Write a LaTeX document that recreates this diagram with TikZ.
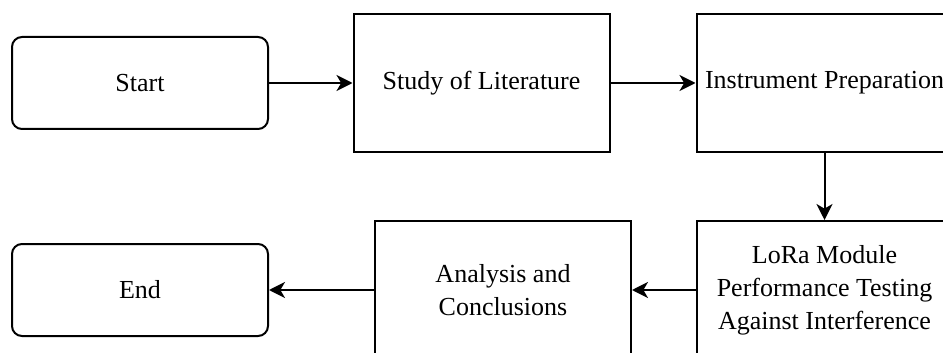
\documentclass[tikz,border=0pt]{standalone}
\usepackage{fontspec}
\setmainfont{Liberation Serif}
\usepackage{tikz}
\usetikzlibrary{arrows.meta}
\tikzset{blk/.style={rectangle,draw,line width=1.5pt,minimum width=192pt,minimum height=103.5pt,inner sep=2pt,align=center,font=\fontsize{19.5}{24.75}\selectfont}}
\tikzset{term/.style={blk,rounded corners=7.5pt,minimum height=69pt}}

\begin{document}
\begin{tikzpicture}[x=0.75pt,y=-0.75pt,>={Stealth[length=12pt,width=12pt,inset=3.5pt]}]
    \useasboundingbox (0,0) rectangle (943,353);
    \clip (0,0) rectangle (943,353);

    \node[term] (start) at (140,83) {Start};
    \node[blk] (study) at (481.5,83) {Study of Literature};
    \node[blk] (instr) at (824.5,83) {Instrument Preparation};
    \node[blk] (lora) at (824.5,290) {LoRa Module\\Performance Testing\\Against Interference};
    \node[blk] (concl) at (503,290) {Analysis and\\Conclusions};
    \node[term] (stop) at (140,290) {End};

    \draw [line width=1.5pt,->] (start) to [] (study);
    \draw [line width=1.5pt,->] (study) to [] (instr);
    \draw [line width=1.5pt,->] (instr) to [] (lora);
    \draw [line width=1.5pt,->] (lora) to [] (concl);
    \draw [line width=1.5pt,->] (concl) to [] (stop);
\end{tikzpicture}
\end{document}
